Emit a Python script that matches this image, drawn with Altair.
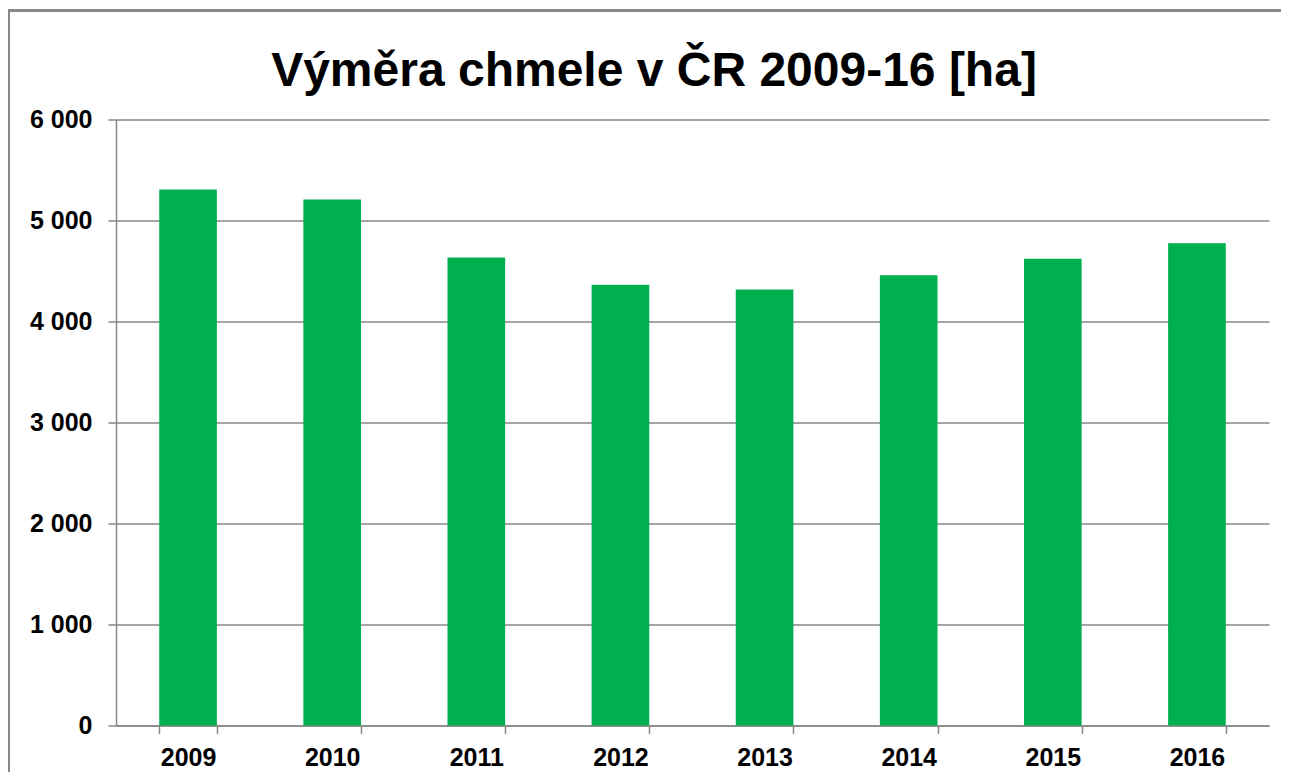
import altair as alt
import pandas as pd

years = ["2009", "2010", "2011", "2012", "2013", "2014", "2015", "2016"]
area_ha = [5308, 5207, 4633, 4364, 4318, 4457, 4621, 4775]
y_ticks = [0, 1000, 2000, 3000, 4000, 5000, 6000]
title_text = ["Výměra chmele v ČR 2009-16 [ha]"]

df = pd.DataFrame({"rok": years, "vymera": area_ha})
df_title = pd.DataFrame({"t": title_text})

W, H = 1153, 606
GRAY = "#878787"
FONT = "Liberation Sans"

bars = alt.Chart(df).mark_bar(color="#00B050").encode(
    x=alt.X(
        "rok:N",
        sort=years,
        scale=alt.Scale(paddingInner=0.6, paddingOuter=0.3),
        axis=alt.Axis(
            title=None,
            labelAngle=0,
            labelFont=FONT,
            labelFontSize=25,
            labelFontWeight="bold",
            labelColor="black",
            labelPadding=12,
            tickBand="extent",
            tickSize=8,
            tickColor=GRAY,
            tickWidth=1.5,
            domainColor=GRAY,
            domainWidth=1.5,
            grid=False,
        ),
    ),
    y=alt.Y(
        "vymera:Q",
        scale=alt.Scale(domain=[0, 6000]),
        axis=alt.Axis(
            title=None,
            values=y_ticks,
            labelExpr="replace(format(datum.value, ','), ',', ' ')",
            labelFont=FONT,
            labelFontSize=25,
            labelFontWeight="bold",
            labelColor="black",
            labelPadding=16,
            tickSize=8,
            tickColor=GRAY,
            tickWidth=1.5,
            domainColor=GRAY,
            domainWidth=1.5,
            grid=True,
            gridColor=GRAY,
            gridWidth=1.5,
        ),
    ),
)

title = alt.Chart(df_title).mark_text(
    font=FONT,
    fontSize=48,
    fontWeight="bold",
    color="black",
    align="center",
    baseline="alphabetic",
    clip=False,
).encode(x=alt.value(538), y=alt.value(-34), text="t:N")

frame_top = alt.Chart(df).mark_rule(color=GRAY, strokeWidth=2, clip=False).encode(
    x=alt.value(-107.5), x2=alt.value(W + 20), y=alt.value(-109)
)
frame_left = alt.Chart(df).mark_rule(color=GRAY, strokeWidth=2, clip=False).encode(
    x=alt.value(-107.5), y=alt.value(-109), y2=alt.value(H + 60)
)

chart = alt.layer(bars, title, frame_top, frame_left).properties(
    width=W,
    height=H,
    autosize=alt.AutoSizeParams(type="none"),
    padding={"left": 108, "top": 111.5, "right": 12, "bottom": 46},
).configure_view(stroke=None)

chart.save("out.html", embed_options={"renderer": "svg", "actions": False})
